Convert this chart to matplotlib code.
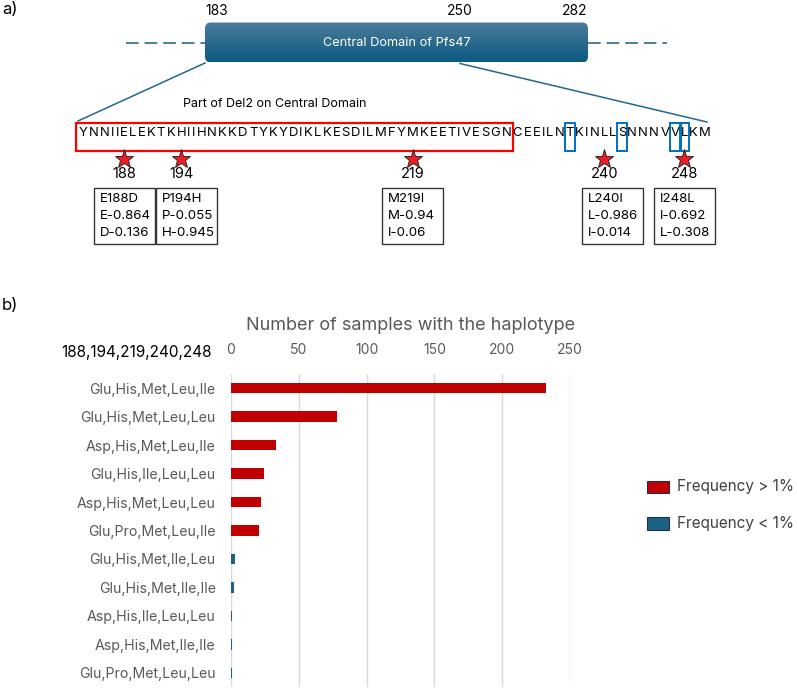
import numpy as np
import matplotlib
matplotlib.use("Agg")
import matplotlib.pyplot as plt
from matplotlib.patches import FancyBboxPatch, Rectangle
from matplotlib.colors import LinearSegmentedColormap
from matplotlib.font_manager import FontProperties

plt.rcParams['font.family'] = ['Inter', 'DejaVu Sans']

W, H = 797, 688

### PANEL A DATA ###
seq_start = 183
domain_marks = [183, 250, 282]
domain_name = "Central Domain of Pfs47"
sequence = "YNNIIELEKTKHIIHNKKDTYKYDIKLKESDILMFYMKEETIVESGNCEEILNTKINLLSNNNVVLKM"
del2_end = 229
boxed_sites = [236, 242, 247, 248]
mut_pos = [188, 194, 219, 240, 248]
mut_name = ["E188D", "P194H", "M219I", "L240I", "I248L"]
mut_freq = [["E-0.864", "D-0.136"],
            ["P-0.055", "H-0.945"],
            ["M-0.94", "I-0.06"],
            ["L-0.986", "I-0.014"],
            ["I-0.692", "L-0.308"]]

### PANEL B DATA ###
haplotypes = ["Glu,His,Met,Leu,Ile", "Glu,His,Met,Leu,Leu", "Asp,His,Met,Leu,Ile",
              "Glu,His,Ile,Leu,Leu", "Asp,His,Met,Leu,Leu", "Glu,Pro,Met,Leu,Ile",
              "Glu,His,Met,Ile,Leu", "Glu,His,Met,Ile,Ile", "Asp,His,Ile,Leu,Leu",
              "Asp,His,Met,Ile,Ile", "Glu,Pro,Met,Leu,Leu"]
counts = [232, 78, 33, 24, 22, 21, 3, 2, 1, 1, 1]
freq_class = [">1%", ">1%", ">1%", ">1%", ">1%", ">1%", "<1%", "<1%", "<1%", "<1%", "<1%"]

red = '#c00000'
blue = '#1d6185'
gray = '#595959'

fig = plt.figure(figsize=(W / 100, H / 100), dpi=100)
ax = fig.add_axes([0, 0, 1, 1])
ax.axis('off')

# panel labels
ax.text(2, 10, "a)", fontsize=12, va='center', ha='left')
ax.text(2, 305, "b)", fontsize=12, va='center', ha='left')

# domain bar
x0, x1 = 205, 588
box = FancyBboxPatch((x0, 22.5), x1 - x0, 40, boxstyle='round,pad=0,rounding_size=6',
                     fc='none', ec='none')
ax.add_patch(box)
cmap = LinearSegmentedColormap.from_list('dom', ['#4c7c9b', '#0b5a80'])
im = ax.imshow(np.linspace(0, 1, 64).reshape(-1, 1), extent=(x0, x1, 62.5, 22.5),
               cmap=cmap, aspect='auto', zorder=2)
im.set_clip_path(box)
ax.text((x0 + x1) / 2, 43, domain_name, color='white', fontsize=9.2, ha='center', va='center', zorder=3)
ax.plot([126, x0], [42.7, 42.7], ls=(0, (7, 3.3)), color='#3e7396', lw=1.3)
ax.plot([x1, 667], [42.7, 42.7], ls=(0, (7, 3.3)), color='#3e7396', lw=1.3)
for m, xm in zip(domain_marks, [217, 460, 575]):
    ax.text(xm, 11, str(m), fontsize=10, ha='center', va='center')

# zoom lines
ax.plot([205, 78], [63, 121], color='#22678f', lw=1.1)
ax.plot([460, 707], [63.5, 122], color='#22678f', lw=1.1)

ax.text(183, 104, "Part of Del2 on Central Domain", fontsize=9, ha='left', va='center')

# sequence with even tracking
renderer = fig.canvas.get_renderer()
fp = FontProperties(family=['Inter', 'DejaVu Sans'], size=9.4)
def tw(s):
    if not s:
        return 0.0
    return renderer.get_text_width_height_descent(s, fp, ismath=False)[0]

n = len(sequence)
pre = [tw(sequence[:i]) for i in range(n + 1)]
seq_x0, seq_x1, seq_y = 79, 711, 133
track = (seq_x1 - seq_x0 - pre[-1]) / (n - 1)
lefts = [seq_x0 + pre[i] + i * track for i in range(n)]
widths = [pre[i + 1] - pre[i] for i in range(n)]
for i, ch in enumerate(sequence):
    ax.text(lefts[i], seq_y, ch, fontproperties=fp, ha='left', va='center')

idx = del2_end - seq_start
ax.add_patch(Rectangle((76, 122.5), lefts[idx] + widths[idx] + 2 - 76, 28.5,
                       fill=False, ec='#ff0000', lw=1.6))
for p in boxed_sites:
    i = p - seq_start
    ax.add_patch(Rectangle((lefts[i] - 1, 122.5), widths[i] + 2, 28.5,
                           fill=False, ec='#0070c0', lw=1.4))

# mutation stars and boxes
box_shift = [0, 5, 0, 8, 0]
for p, name, fr, sh in zip(mut_pos, mut_name, mut_freq, box_shift):
    i = p - seq_start
    cx = lefts[i] + widths[i] / 2
    ax.plot(cx, 159, marker='*', ms=14, color='#ee1c25', mec='#2b2b2b', mew=0.7)
    ax.text(cx, 174.5, str(p), fontsize=10.5, ha='center', va='center')
    bl = cx + sh - 30.5
    ax.add_patch(Rectangle((bl, 187.5), 61, 56.5, fill=False, ec='#333333', lw=1))
    for k, line in enumerate([name] + fr):
        ax.text(bl + 6, 199.5 + k * 16.5, line, fontsize=9.6, ha='left', va='center')

ax.set_xlim(0, W)
ax.set_ylim(H, 0)

### PANEL B ###
ax2 = fig.add_axes([231 / W, (H - 687) / H, 339 / W, 313 / H])
ys = np.arange(len(haplotypes))
colors = [red if c == ">1%" else blue for c in freq_class]
ax2.barh(ys, counts, height=0.37, color=colors, zorder=3)
ax2.set_xlim(0, 250)
ax2.set_ylim(len(haplotypes) - 0.5, -0.5)
ax2.set_xticks(range(0, 251, 50))
ax2.set_yticks(ys)
ax2.set_yticklabels(haplotypes)
ax2.grid(axis='x', color='#d9d9d9', lw=1)
ax2.set_axisbelow(True)
for s in ax2.spines.values():
    s.set_visible(False)
ax2.tick_params(axis='x', top=True, labeltop=True, bottom=False, labelbottom=False,
                length=0, pad=12, labelsize=10, labelcolor=gray)
ax2.tick_params(axis='y', length=0, pad=11, labelsize=10.2, labelcolor=gray)

ax.text(411, 325, "Number of samples with the haplotype", fontsize=13, color=gray,
        ha='center', va='center')
ax.text(212, 353, "188,194,219,240,248", fontsize=11, ha='right', va='center')

# legend
for yl, c, lab in [(480.5, red, "Frequency > 1%"), (517, blue, "Frequency < 1%")]:
    ax.add_patch(Rectangle((647.5, yl), 22, 12.5, fc=c, ec='#1f3340', lw=0.8))
    ax.text(677.5, yl + 6.5, lab, fontsize=11, color='#404040', ha='left', va='center')

fig.savefig("out.png", dpi=100)
